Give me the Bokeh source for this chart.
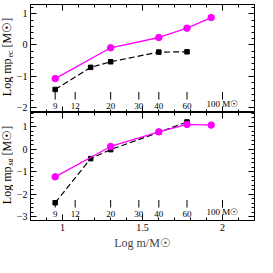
import numpy as np
from math import pi
from bokeh.plotting import figure
from bokeh.models import Range1d, LinearAxis, Label, SingleIntervalTicker
from bokeh.layouts import column, row
from bokeh.embed import file_html
from bokeh.resources import INLINE
from bokeh.core.properties import value

# ---- data ----
mass_ticks = [9, 12, 20, 30, 40, 60, 100]
mass_tick_labels = ["9", "12", "20", "30", "40", "60", "100 M☉"]

top_magenta_mass = [9, 20, 40, 60, 85]
top_magenta_val = [-1.08, -0.09, 0.24, 0.54, 0.88]
top_black_mass = [9, 15, 20, 40, 60]
top_black_val = [-1.43, -0.72, -0.54, -0.23, -0.22]

bot_magenta_mass = [9, 20, 40, 60, 85]
bot_magenta_val = [-1.23, 0.12, 0.77, 1.10, 1.07]
bot_black_mass = [9, 15, 20, 40, 60]
bot_black_val = [-2.38, -0.42, -0.02, 0.75, 1.21]

x_range_vals = (0.80, 2.20)
top_y_range = (-2.17, 1.30)
bot_y_range = (-3.17, 1.63)

FONT = "Liberation Serif"
FW, FH = 224, 108
LW = 13
MAG = "#ff00ff"


def style_axis(ax, show_labels):
    ax.axis_line_color = "black"
    ax.major_tick_line_color = "black"
    ax.minor_tick_line_color = "black"
    ax.major_tick_in = 6
    ax.major_tick_out = 0
    ax.minor_tick_in = 3
    ax.minor_tick_out = 0
    ax.major_label_text_font = FONT
    if show_labels:
        ax.major_label_text_color = "black"
        ax.major_label_text_font_size = "10px"
        ax.major_label_standoff = 3
    else:
        ax.major_label_text_color = None
        ax.major_label_text_font_size = "1px"
        ax.major_label_standoff = 0


def make_panel(yr, mag_m, mag_v, blk_m, blk_v, sub, bottom):
    top_border = 0 if bottom else 4
    p = figure(x_range=Range1d(*x_range_vals), y_range=Range1d(*yr),
               frame_width=FW, frame_height=FH,
               min_border_left=15, min_border_right=5,
               min_border_top=top_border, min_border_bottom=0,
               toolbar_location=None, output_backend="svg",
               x_axis_type=None, y_axis_type=None)
    p.outline_line_color = "black"
    p.background_fill_color = "white"
    p.border_fill_color = "white"
    p.xgrid.visible = False
    p.ygrid.visible = False

    for loc in ["below", "above"]:
        ax = LinearAxis(ticker=SingleIntervalTicker(interval=0.5, num_minor_ticks=5))
        style_axis(ax, bottom and loc == "below")
        if bottom and loc == "below":
            ax.major_label_overrides = {1.0: "1", 1.5: "1.5", 2.0: "2"}
            ax.axis_label = "Log m/M☉"
            ax.axis_label_text_font = FONT
            ax.axis_label_text_font_size = "12px"
            ax.axis_label_text_font_style = "normal"
            ax.axis_label_standoff = 2
        p.add_layout(ax, loc)
    for loc in ["left", "right"]:
        ax = LinearAxis(ticker=SingleIntervalTicker(interval=1, num_minor_ticks=5))
        style_axis(ax, loc == "left")
        p.add_layout(ax, loc)

    p.extra_y_ranges = {"frac": Range1d(0, 1)}
    lx = np.log10(mass_ticks)
    n = len(lx)
    p.segment(x0=lx, y0=[0.12] * n, x1=lx, y1=[0.19] * n,
              y_range_name="frac", line_color="black", line_width=1)
    p.text(x=lx, y=[0.035] * n, text=mass_tick_labels, y_range_name="frac",
           text_align="center", text_baseline="bottom",
           text_font=value(FONT), text_font_size="9px", text_color="black")

    bx = np.log10(blk_m)
    p.line(bx, blk_v, line_color="black", line_width=1.2, line_dash="6 3")
    p.scatter(bx, blk_v, marker="square", size=4.5, color="black")
    mx = np.log10(mag_m)
    p.line(mx, mag_v, line_color=MAG, line_width=1.3)
    p.scatter(mx, mag_v, marker="circle", size=6.5, color=MAG)

    # y-axis title drawn in a narrow companion figure (text + subscript)
    lf = figure(x_range=Range1d(0, 1), y_range=Range1d(*yr),
                frame_width=LW, frame_height=FH,
                min_border_left=0, min_border_right=0,
                min_border_top=top_border, min_border_bottom=0,
                toolbar_location=None, output_backend="svg",
                x_axis_type=None, y_axis_type=None)
    lf.outline_line_color = None
    lf.xgrid.visible = False
    lf.ygrid.visible = False
    ppu = FH / (yr[1] - yr[0])
    A = (yr[0] + yr[1]) / 2
    common = dict(angle=pi / 2, text_baseline="middle", text_font=FONT,
                  text_color="black")
    lf.add_layout(Label(x=0.5, y=A, text="Log mp", text_align="right",
                        text_font_size="12px", **common))
    lf.add_layout(Label(x=0.5, y=A + 1.0 / ppu, x_offset=3, text=sub,
                        text_align="left", text_font_size="8px", **common))
    lf.add_layout(Label(x=0.5, y=A + 11.0 / ppu, text="[M☉]",
                        text_align="left", text_font_size="12px", **common))
    return row(lf, p, spacing=0)


r1 = make_panel(top_y_range, top_magenta_mass, top_magenta_val,
                top_black_mass, top_black_val, "ec", False)
r2 = make_panel(bot_y_range, bot_magenta_mass, bot_magenta_val,
                bot_black_mass, bot_black_val, "sg", True)

layout = column(r1, r2, spacing=0)
open("out.html", "w").write(file_html(layout, INLINE))
